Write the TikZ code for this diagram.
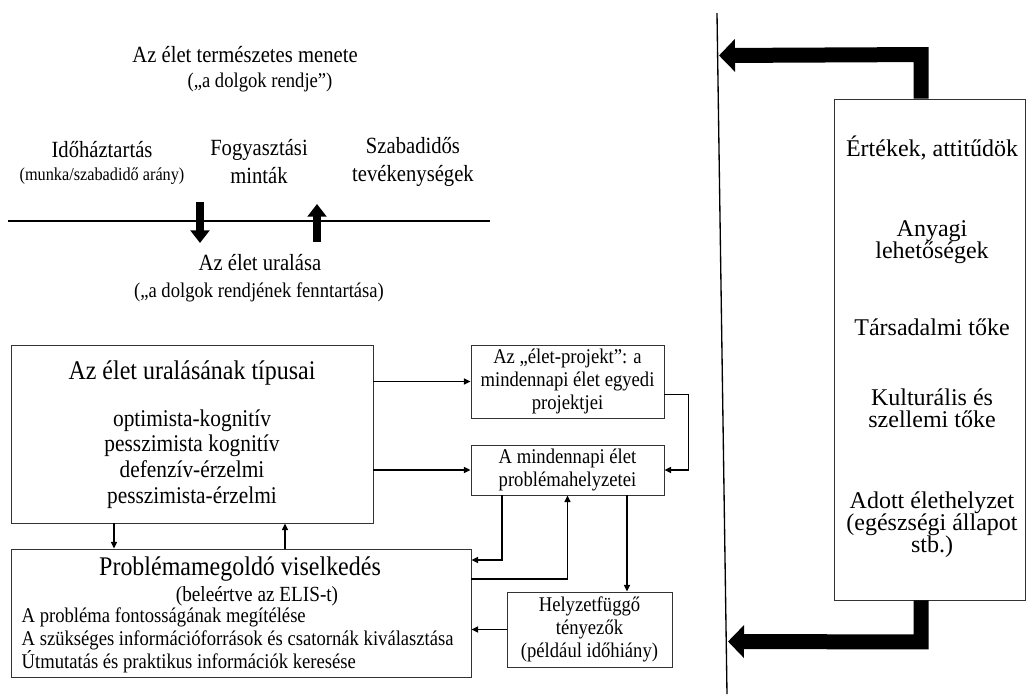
\documentclass[tikz,border=0pt]{standalone}
\usepackage{fontspec}
\setmainfont{Liberation Serif}
\newfontfamily\tallserif{Liberation Serif}[FakeStretch=0.89]
\usetikzlibrary{arrows.meta,calc}
\lineskiplimit=-30pt

\begin{document}
\begin{tikzpicture}[x=0.75pt, y=-0.75pt,
    box/.style={draw=black!80, line width=0.7pt, inner sep=0pt},
    lbl/.style={font={\tallserif\fontsize{17.4}{21}\selectfont}, align=center},
    sublbl/.style={font={\tallserif\fontsize{13.7}{15}\selectfont}},
    midlbl/.style={font={\tallserif\fontsize{15.7}{17.2}\selectfont}, align=center},
    boxtitle/.style={font={\tallserif\fontsize{20.2}{22}\selectfont}},
    rtext/.style={font=\fontsize{18}{16.5}\selectfont, align=center},
    conn/.style={-{Triangle[length=5pt,width=4.5pt]}, line width=1pt},
    midarrow/.style={-{Triangle[length=9.5pt,width=14pt]}, line width=6pt},
    fatarrow/.style={-{Triangle[length=12pt,width=24pt]}, line width=11.25pt, line join=miter}]
    \useasboundingbox (0,0) rectangle (1026,694);

    % Top: course of life
    \node[lbl] (course) at (245,55) {Az élet természetes menete};
    \node[midlbl] (order) at (260,82) {(„a dolgok rendje”)};

    \node[lbl] (timeuse) at (102,150) {Időháztartás};
    \node[sublbl] (ratio) at (102,176) {(munka/szabadidő arány)};
    \node[lbl] (consume) at (259,162) {Fogyasztási\\minták};
    \node[lbl] (leisure) at (413,162) {Szabadidős\\tevékenységek};

    % Dividing line with the two arrows
    \coordinate (lineL) at (8,221);
    \coordinate (lineR) at (490,221);
    \draw[line width=1pt] (lineL) -- (lineR);
    \coordinate (dnA) at (200,202);
    \coordinate (dnB) at (200,243);
    \draw[midarrow] (dnA) -- (dnB);
    \coordinate (upA) at (317,242);
    \coordinate (upB) at (317,204);
    \draw[midarrow] (upA) -- (upB);

    \node[lbl] (control) at (260,263) {Az élet uralása};
    \node[midlbl] (keep) at (259,292) {(„a dolgok rendjének fenntartása)};

    % Types of mastery of life
    \node[box, minimum width=271.5pt, minimum height=133.5pt] (types) at (192,434) {};
    \node[boxtitle] (typestitle) at (192,373) {Az élet uralásának típusai};
    \node[font={\tallserif\fontsize{18}{19.3}\selectfont}, align=center] (typeslist) at (192,459)
        {optimista-kognitív\\pesszimista kognitív\\defenzív-érzelmi\\pesszimista-érzelmi};

    % Problem solving
    \node[box, minimum width=345pt, minimum height=96pt] (solving) at (241,613) {};
    \node[boxtitle] (solvetitle) at (240,569) {Problémamegoldó viselkedés};
    \node[font={\tallserif\fontsize{16.2}{17.2}\selectfont}] (elis) at (257,596) {(beleértve az ELIS-t)};
    \node[midlbl, align=left, anchor=west] (steps) at (17,640)
        {A probléma fontosságának megítélése\\A szükséges információforrások és csatornák kiválasztása\\Útmutatás és praktikus információk keresése};

    % Small boxes
    \node[box, midlbl, minimum width=144.75pt, minimum height=54.75pt] (project) at (567.5,381.5)
        {Az „élet-projekt”: a\\mindennapi élet egyedi\\projektjei};
    \node[box, midlbl, minimum width=144.75pt, minimum height=37.5pt] (problems) at (567.5,470)
        {A mindennapi élet\\problémahelyzetei};
    \node[box, midlbl, minimum width=123.75pt, minimum height=56.25pt] (factors) at (589.5,629.5)
        {Helyzetfüggő\\tényezők\\(például időhiány)};

    % Connectors
    \draw[conn] (types.east |- project.west) -- (project.west);
    \draw[conn] (types.east |- problems.west) -- (problems.west);
    \draw[conn] ($(project.east)+(0,13)$) -- ++(24,0) |- (problems.east);
    \draw[conn] ($(types.south)+(-78,0)$) -- ($(solving.north)+(-127,0)$);
    \draw[conn] ($(solving.north)+(44,0)$) -- ($(types.south)+(93,0)$);
    \draw[conn] ($(problems.south)+(-65.5,0)$) |- ($(solving.east)+(0,-53)$);
    \draw[conn] ($(solving.east)+(0,-34)$) -| (problems.south);
    \draw[conn] ($(problems.south)+(59.5,0)$) -- ($(factors.north)+(37.5,0)$);
    \draw[conn] (factors.west) -- (factors.west -| solving.east);

    % Right side: resources
    \coordinate (vtop) at (717,13);
    \coordinate (vbot) at (727,694);
    \draw[line width=1pt] (vtop) -- (vbot);
    \node[box, minimum width=143.25pt, minimum height=375.75pt] (resources) at (929.5,349.5) {};
    \node[rtext] (values) at (932,148) {Értékek, attitűdök};
    \node[rtext] (material) at (932,242.5) {Anyagi\\lehetőségek};
    \node[rtext] (social) at (932,327) {Társadalmi tőke};
    \node[rtext] (cultural) at (932,408) {Kulturális és\\szellemi tőke};
    \node[rtext] (situation) at (932,525) {Adott élethelyzet\\(egészségi állapot\\stb.)};

    \coordinate (tipA) at (719,55.5);
    \coordinate (tipB) at (728,641.5);
    \draw[fatarrow] ($(resources.north)+(-8.5,0)$) -- ++(0,-44) -- (tipA);
    \draw[fatarrow] ($(resources.south)+(-8.5,0)$) -- ++(0,41.5) -- (tipB);
\end{tikzpicture}
\end{document}
